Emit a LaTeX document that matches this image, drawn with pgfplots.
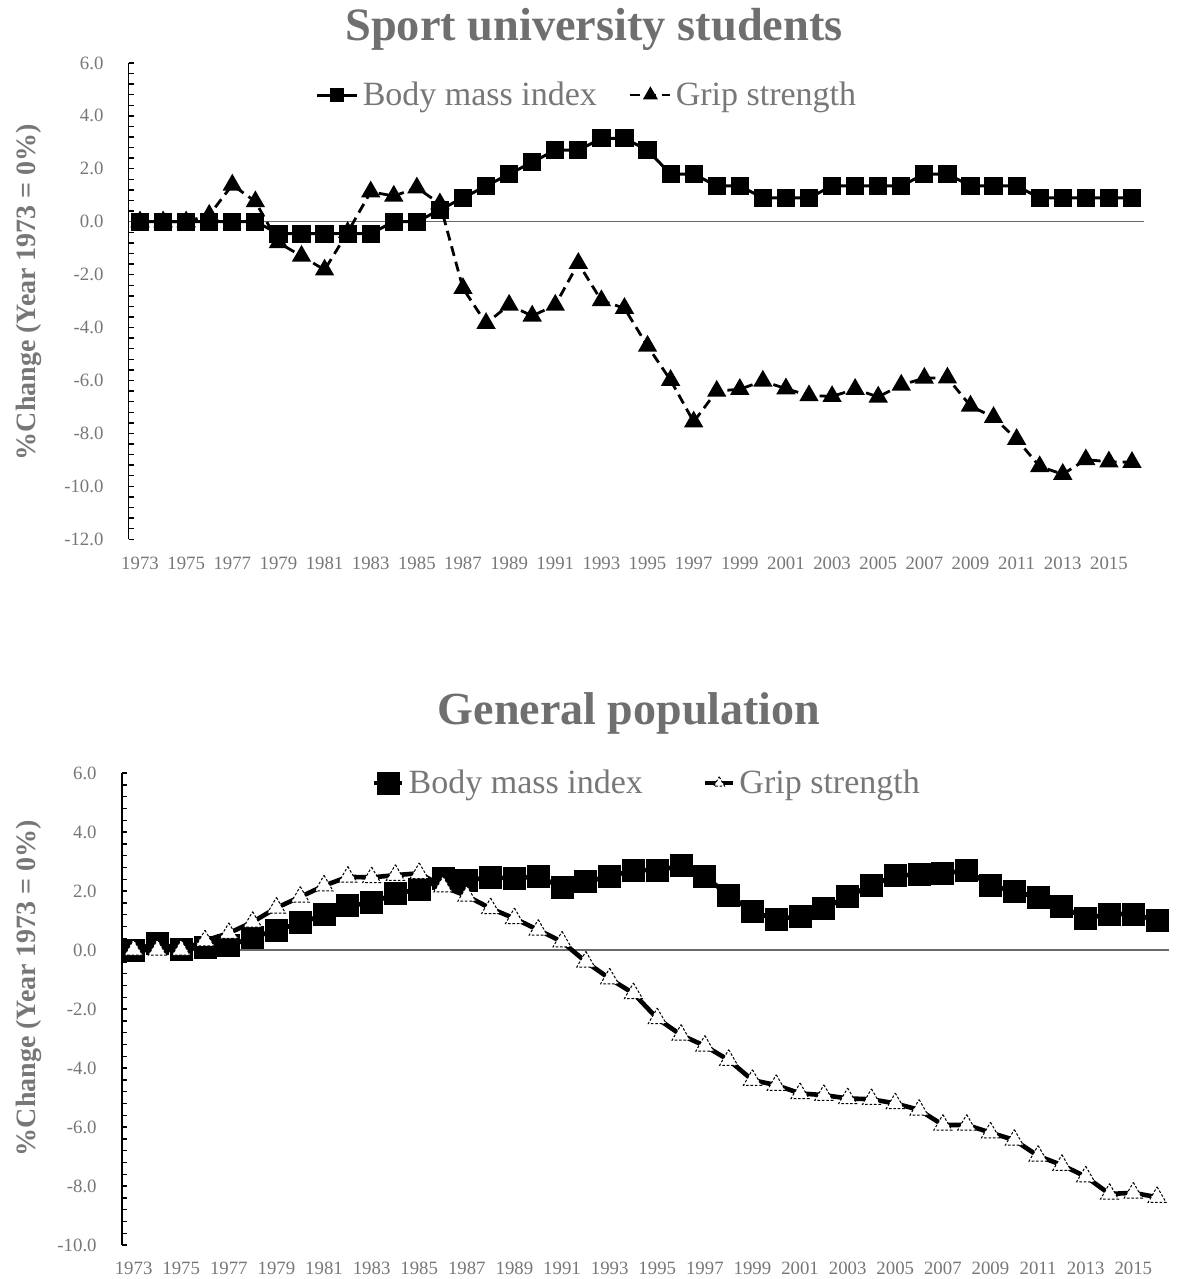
\documentclass[border=0pt]{standalone}
\usepackage{fontspec}
\setmainfont{Liberation Serif}
\usepackage{pgfplots}
\usepackage{pgfplotstable}
\pgfplotsset{compat=1.18}
\definecolor{txt}{HTML}{777777}
\definecolor{ttl}{HTML}{6F6F6F}
\definecolor{zl}{HTML}{6A6A6A}

\pgfplotstableread{
year bmi grip
1973 0 0
1974 0 0
1975 0 0
1976 0 0.25
1977 0 1.39
1978 0 0.76
1979 -0.45 -0.79
1980 -0.45 -1.30
1981 -0.45 -1.82
1982 -0.45 -0.40
1983 -0.45 1.13
1984 0 0.97
1985 0 1.28
1986 0.45 0.68
1987 0.90 -2.52
1988 1.35 -3.84
1989 1.80 -3.15
1990 2.25 -3.56
1991 2.70 -3.15
1992 2.70 -1.57
1993 3.15 -2.98
1994 3.15 -3.27
1995 2.70 -4.70
1996 1.80 -5.99
1997 1.80 -7.56
1998 1.35 -6.40
1999 1.35 -6.33
2000 0.90 -6.02
2001 0.90 -6.31
2002 0.90 -6.57
2003 1.35 -6.60
2004 1.35 -6.33
2005 1.35 -6.62
2006 1.35 -6.17
2007 1.80 -5.91
2008 1.80 -5.90
2009 1.35 -6.96
2010 1.35 -7.39
2011 1.35 -8.22
2012 0.90 -9.25
2013 0.90 -9.54
2014 0.90 -8.99
2015 0.90 -9.07
2016 0.90 -9.09
}\topdata

\pgfplotstableread{
year bmi grip
1973 0 0
1974 0.23 0
1975 0.02 0
1976 0.10 0.32
1977 0.14 0.57
1978 0.43 0.95
1979 0.67 1.43
1980 0.92 1.80
1981 1.19 2.18
1982 1.50 2.48
1983 1.60 2.46
1984 1.91 2.54
1985 2.06 2.60
1986 2.43 2.15
1987 2.37 1.83
1988 2.46 1.41
1989 2.43 1.07
1990 2.50 0.68
1991 2.12 0.28
1992 2.32 -0.40
1993 2.49 -0.97
1994 2.71 -1.47
1995 2.71 -2.32
1996 2.85 -2.88
1997 2.49 -3.25
1998 1.86 -3.73
1999 1.30 -4.41
2000 1.04 -4.58
2001 1.15 -4.86
2002 1.41 -4.92
2003 1.81 -5.03
2004 2.20 -5.06
2005 2.51 -5.20
2006 2.57 -5.42
2007 2.60 -5.93
2008 2.69 -5.93
2009 2.20 -6.19
2010 1.98 -6.44
2011 1.79 -6.98
2012 1.47 -7.29
2013 1.07 -7.68
2014 1.22 -8.27
2015 1.22 -8.23
2016 1.00 -8.38
}\botdata

\pgfplotsset{
  myaxis/.style={
    scale only axis,
    anchor=south west,
    xmin=1972.5, xmax=2016.5,
    axis y line*=left, axis x line*=bottom,
    x axis line style={draw=none},
    y axis line style={-, line width=0.8pt, black},
    xtick={1973,1975,...,2015},
    xticklabels={1973,1975,1977,1979,1981,1983,1985,1987,1989,1991,1993,1995,1997,1999,2001,2003,2005,2007,2009,2011,2013,2015},
    xtick style={draw=none},
    minor y tick num=4,
    tick align=inside,
    major tick length=2.6pt, minor tick length=2.6pt,
    ytick style={black, line width=0.7pt},
    ticklabel style={font=\fontsize{9.4}{11}\selectfont, text=txt},
    yticklabel style={xshift=-9pt},
    xticklabel style={yshift=-5.2pt},
    clip=false,
  },
  toplegend/.style={legend image code/.code={\draw[mark repeat=2,mark phase=2,##1,every mark/.append style={scale=0.7}] plot coordinates {(0pt,0pt) (10pt,0pt) (20pt,0pt)};}},
  botlegA/.style={legend image code/.code={\draw[mark repeat=2,mark phase=2,##1] plot coordinates {(0pt,0pt) (7pt,0pt) (14pt,0pt)};}},
  botlegB/.style={legend image code/.code={\draw[mark repeat=2,mark phase=2,##1,every mark/.append style={scale=0.6}] plot coordinates {(0pt,0pt) (7pt,0pt) (14pt,0pt)};}},
}

\begin{document}
\begin{tikzpicture}
\path[use as bounding box] (0pt,0pt) rectangle (588.5pt,-639.5pt);

\node[font=\bfseries\fontsize{23.2}{27}\selectfont, text=ttl, anchor=base] at (297pt,-20.5pt) {Sport university students};
\node[font=\bfseries\fontsize{23}{27}\selectfont, text=ttl, anchor=base] at (314.5pt,-362pt) {General population};
\node[rotate=90, font=\bfseries\fontsize{14}{16}\selectfont, text=txt] at (14.5pt,-146pt) {\%Change (Year 1973 = 0\%)};
\node[rotate=90, font=\bfseries\fontsize{14}{16}\selectfont, text=txt] at (14.5pt,-494pt) {\%Change (Year 1973 = 0\%)};

% ---------- top ----------
\begin{axis}[myaxis,
  at={(64.25pt,-269.65pt)},
  width=507.5pt, height=238.2pt,
  ymin=-12, ymax=6,
  ytick={-12,-10,-8,-6,-4,-2,0,2,4,6},
  yticklabels={-12.0,-10.0,-8.0,-6.0,-4.0,-2.0,0.0,2.0,4.0,6.0},
  legend style={draw=none, fill=none, at={(0.4527,0.9326)}, anchor=center,
    font=\fontsize{17}{20}\selectfont, text=txt,
    /tikz/every even column/.append style={column sep=14pt}},
  legend columns=2,
  toplegend,
]
\addplot[zl, line width=0.7pt, forget plot] coordinates {(1972.5,0) (2016.5,0)};
\addplot[black, line width=1.5pt, mark=square*, mark size=3.8pt, mark options={solid, fill=black}] table[x=year, y=bmi] {\topdata};
\addlegendentry{Body mass index}
\addplot[black, line width=1.4pt, dash pattern=on 5pt off 3pt, mark=triangle*, mark size=4.2pt, mark options={solid, fill=black}] table[x=year, y=grip] {\topdata};
\addlegendentry{Grip strength}
\end{axis}

% ---------- bottom ----------
\begin{axis}[myaxis,
  at={(60.85pt,-622.5pt)},
  width=523.65pt, height=236pt,
  ymin=-10, ymax=6,
  ytick={-10,-8,-6,-4,-2,0,2,4,6},
  yticklabels={-10.0,-8.0,-6.0,-4.0,-2.0,0.0,2.0,4.0,6.0},
  legend style={draw=none, fill=none, at={(0.5025,0.9788)}, anchor=center,
    font=\fontsize{17}{20}\selectfont, text=txt,
    /tikz/every even column/.append style={column sep=28pt}},
  legend columns=2,
]
\addplot[zl, line width=0.7pt, forget plot] coordinates {(1972.5,0) (2016.5,0)};
\addplot[black, line width=2.3pt, mark=square*, mark size=4.6pt, mark options={solid, fill=black}, botlegA] table[x=year, y=bmi] {\botdata};
\addlegendentry{Body mass index}
\addplot[black, line width=2.3pt, mark=triangle*, mark size=5.2pt, mark options={fill=white, draw=black, line width=0.5pt, dash pattern=on 1.3pt off 0.9pt}, botlegB] table[x=year, y=grip] {\botdata};
\addlegendentry{Grip strength}
\end{axis}
\end{tikzpicture}
\end{document}
